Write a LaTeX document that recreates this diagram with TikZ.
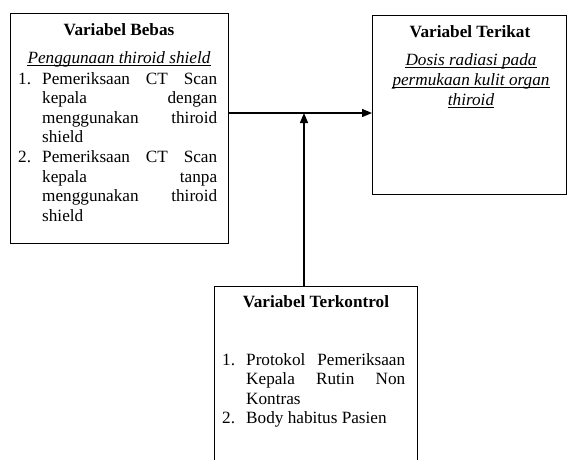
\documentclass[tikz,border=0pt]{standalone}
\usepackage{fontspec}
\setmainfont{Liberation Serif}
\usetikzlibrary{arrows.meta}
\begin{document}
\begin{tikzpicture}[x=1pt,y=1pt,
  box/.style={draw, line width=1.3pt, anchor=north west, inner sep=0pt},
  txt/.style={inner sep=0pt, font=\fontsize{17.2}{19.6}\selectfont},
  ttl/.style={txt, anchor=base, font=\fontsize{17.2}{19.6}\selectfont\bfseries},
  item/.style={txt, anchor=base west, align=left},
  itl/.style={txt, anchor=base, font=\fontsize{17.2}{19.6}\selectfont\itshape},
  uline/.style={line width=0.8pt},
  conn/.style={line width=1.3pt, -{Triangle[length=10pt,width=8pt]}}]
\useasboundingbox (0,0) rectangle (567,-459);
% boxes
\node[box, minimum width=218, minimum height=230] (L) at (10,-13) {};
\node[box, minimum width=194, minimum height=179] (R) at (372,-15) {};
\node[box, minimum width=203, minimum height=200] (B) at (214,-286) {};
% left box text
\node[ttl] (lt) at (119,-35) {Variabel Bebas};
\node[itl] (ls) at (119,-63) {Penggunaan thiroid shield};
\draw[uline] ([yshift=-2.5pt]ls.base west) -- ([yshift=-2.5pt]ls.base east);
\node[item] (n1) at (18,-84) {1.};
\node[item, text width=175] (i1) at (42,-84) {Pemeriksaan\hfill CT\hfill Scan\\ kepala\hfill dengan\\ menggunakan\hfill thiroid\\ shield};
\node[item] (n2) at (18,-162.4) {2.};
\node[item, text width=175] (i2) at (42,-162.4) {Pemeriksaan\hfill CT\hfill Scan\\ kepala\hfill tanpa\\ menggunakan\hfill thiroid\\ shield};
% right box text
\node[ttl] (rt) at (470,-37) {Variabel Terikat};
\node[itl] (r1) at (471,-65) {Dosis radiasi pada};
\node[itl] (r2) at (471,-85) {permukaan kulit organ};
\node[itl] (r3) at (471,-105) {thiroid};
\foreach \n in {r1,r2,r3}
  \draw[uline] ([yshift=-2.5pt]\n.base west) -- ([yshift=-2.5pt]\n.base east);
% bottom box text
\node[ttl] (bt) at (316,-307) {Variabel Terkontrol};
\node[item] (m1) at (222,-365) {1.};
\node[item, text width=159] (j1) at (246,-365) {Protokol\hfill Pemeriksaan\\ Kepala\hfill Rutin\hfill Non\\ Kontras};
\node[item] (m2) at (222,-423.5) {2.};
\node[txt, anchor=base west] (j2) at (246,-423.5) {Body habitus Pasien};
% connectors
\coordinate (j) at (304,-113);
\draw[conn] (L.east |- j) -- (R.west |- j);
\draw[conn] (B.north -| j) -- (j);
\end{tikzpicture}
\end{document}
